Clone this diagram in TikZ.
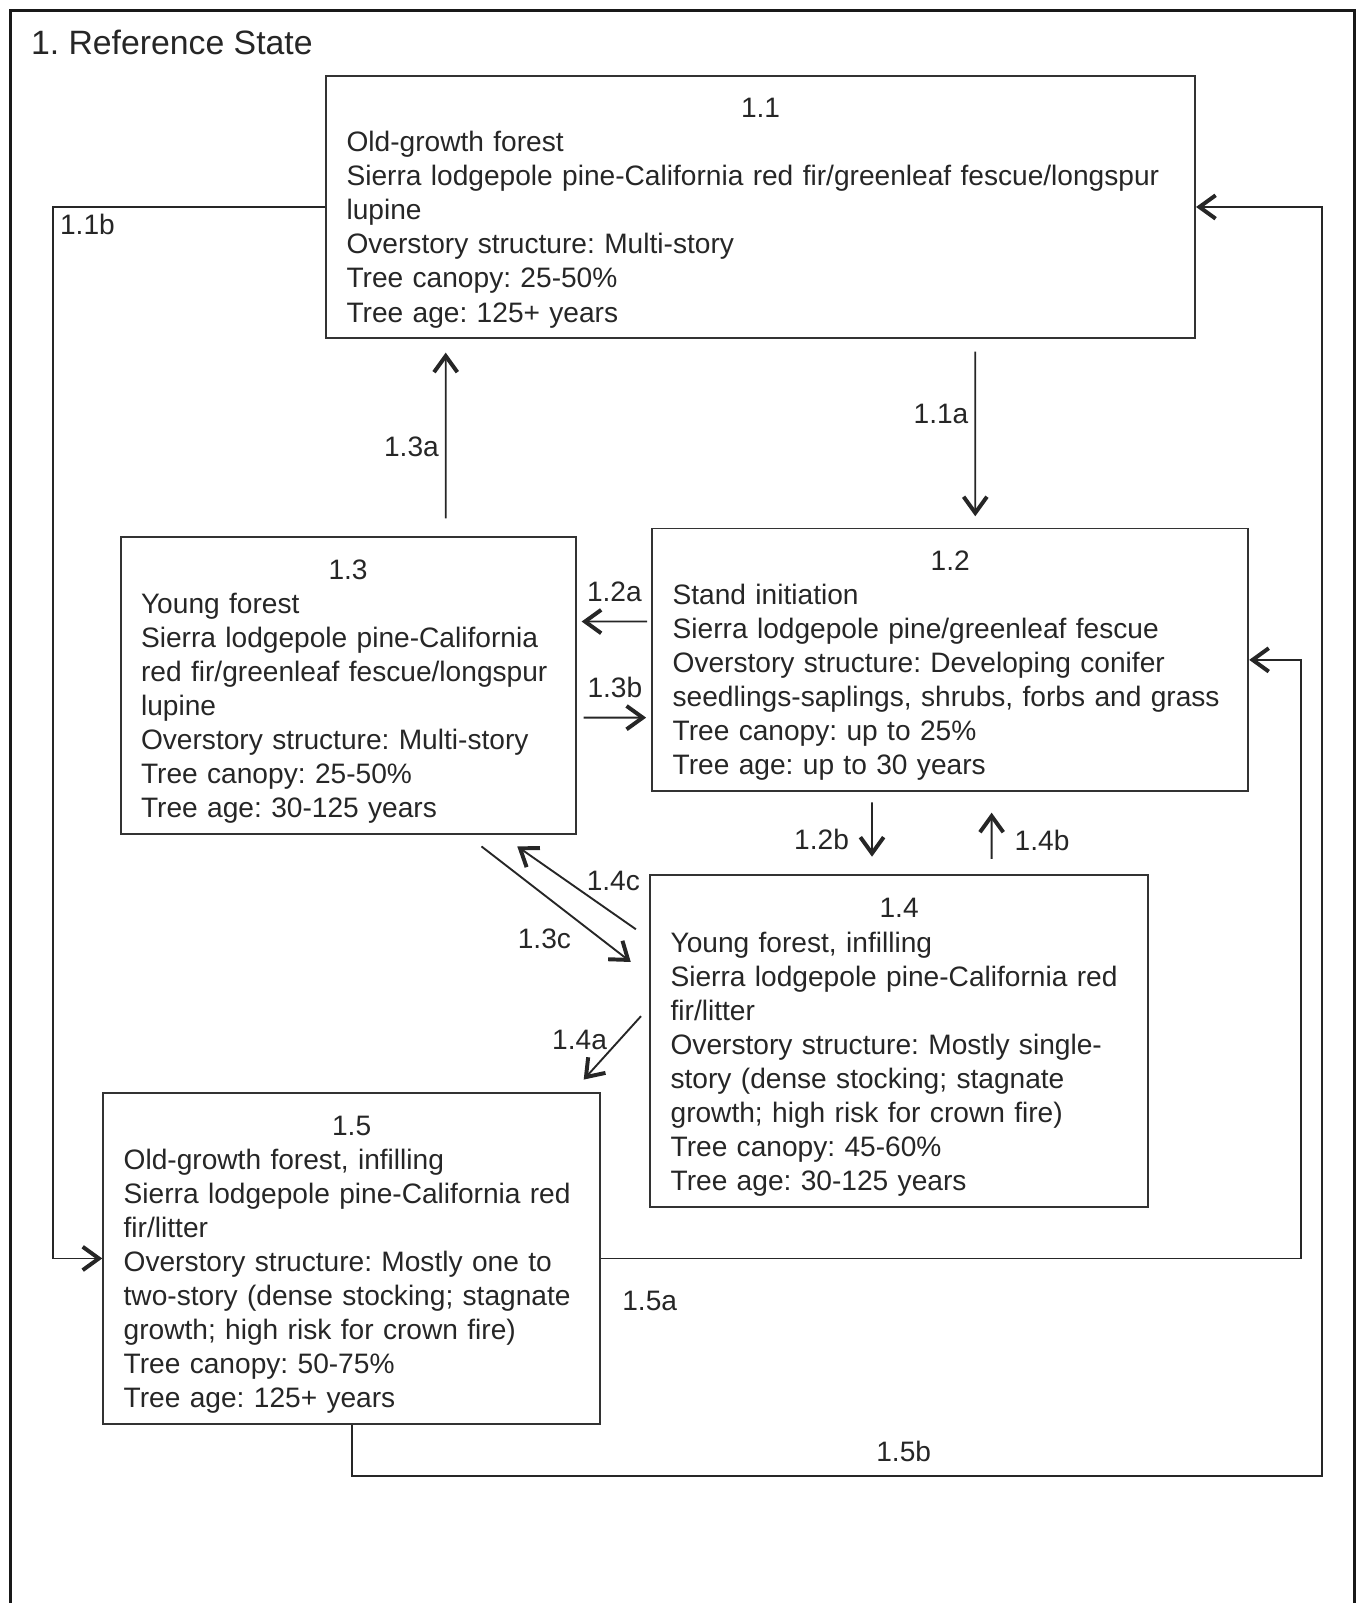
\documentclass[tikz,border=0pt]{standalone}
\usepackage{fontspec}
\setmainfont{Liberation Sans}
\frenchspacing
\usepackage{tikz}
\usetikzlibrary{shapes,positioning,arrows.meta}
\newcommand{\phasefont}{\fontsize{15.65}{18.95}\selectfont\hyphenpenalty=10000\relax\exhyphenpenalty=10000\relax}
\newcommand{\phaseno}[1]{\makebox[\linewidth]{\rule{0pt}{0.62cm}#1}}

\begin{document}
\begin{tikzpicture}[
  statebox/.style={rectangle, draw=black!80, line width=1.1pt, anchor=north west, align=left, inner xsep=0.4cm, inner ysep=0pt, font=\phasefont, text=black!85},
  lbl/.style={font=\phasefont, text=black!85},
  arrow/.style={-{Straight Barb[length=9pt,width=13pt,line width=2.2pt]}, line width=1.05pt, black!85}
]
\useasboundingbox (0,0) rectangle (26.58,-31.36);

% Outer frame
\draw[line width=1.6pt, black!90] (0.2,-31.6) -- (0.2,-0.2) -- (26.5,-0.2) -- (26.5,-31.6);
\node[anchor=west, inner sep=0pt, font=\fontsize{18.8}{22}\selectfont, text=black!85] (title) at (0.6,-0.84) {1. Reference State};

% Community phase boxes
\node[statebox, text width=16.2cm, minimum height=5.14cm] (b11) at (6.36,-1.46) {\phaseno{1.1}\\Old-growth forest\\Sierra lodgepole pine-California red fir/greenleaf fescue/longspur\\lupine\\Overstory structure: Multi-story\\Tree canopy: 25-50\%\\Tree age: 125+ years};
\node[statebox, text width=10.86cm, minimum height=5.14cm] (b12) at (12.74,-10.32) {\phaseno{1.2}\\Stand initiation\\Sierra lodgepole pine/greenleaf fescue\\Overstory structure: Developing conifer\\seedlings-saplings, shrubs, forbs and grass\\Tree canopy: up to 25\%\\Tree age: up to 30 years};
\node[statebox, text width=8.1cm, minimum height=5.82cm] (b13) at (2.34,-10.48) {\phaseno{1.3}\\Young forest\\Sierra lodgepole pine-California\\red fir/greenleaf fescue/longspur\\lupine\\Overstory structure: Multi-story\\Tree canopy: 25-50\%\\Tree age: 30-125 years};
\node[statebox, text width=8.94cm, minimum height=6.5cm] (b14) at (12.70,-17.10) {\phaseno{1.4}\\Young forest, infilling\\Sierra lodgepole pine-California red\\fir/litter\\Overstory structure: Mostly single-\\story (dense stocking; stagnate\\growth; high risk for crown fire)\\Tree canopy: 45-60\%\\Tree age: 30-125 years};
\node[statebox, text width=8.92cm, minimum height=6.48cm] (b15) at (2.00,-21.36) {\phaseno{1.5}\\Old-growth forest, infilling\\Sierra lodgepole pine-California red\\fir/litter\\Overstory structure: Mostly one to\\two-story (dense stocking; stagnate\\growth; high risk for crown fire)\\Tree canopy: 50-75\%\\Tree age: 125+ years};

% Transitions between phases
\draw[arrow] ([xshift=4.2cm,yshift=-0.24cm]b11.south) -- ([xshift=0.49cm,yshift=0.22cm]b12.north) node[lbl, pos=0.38, left] {1.1a};
\draw[arrow] ([xshift=1.91cm,yshift=0.34cm]b13.north) -- ([xshift=-6.16cm,yshift=-0.26cm]b11.south) node[lbl, pos=0.43, left] {1.3a};
\draw[arrow] ([xshift=-0.08cm,yshift=0.75cm]b12.west) -- ([xshift=0.1cm,yshift=1.25cm]b13.east) node[lbl, midway, above=7pt] {1.2a};
\draw[arrow] ([xshift=0.14cm,yshift=-0.63cm]b13.east) -- ([xshift=-0.1cm,yshift=-1.13cm]b12.west) node[lbl, midway, above=7pt] {1.3b};
\draw[arrow] ([xshift=-1.53cm,yshift=-0.2cm]b12.south) -- ([xshift=-0.53cm,yshift=0.34cm]b14.north) node[lbl, pos=0.69, left=9pt] {1.2b};
\draw[arrow] ([xshift=1.81cm,yshift=0.3cm]b14.north) -- ([xshift=0.81cm,yshift=-0.4cm]b12.south) node[lbl, pos=0.4, right=9pt] {1.4b};
\draw[arrow] ([xshift=2.61cm,yshift=-0.22cm]b13.south) -- ([xshift=-0.36cm,yshift=1.55cm]b14.west) node[lbl, pos=0.8, left=0.45cm] {1.3c};
\draw[arrow] ([xshift=-0.26cm,yshift=2.19cm]b14.west) -- ([xshift=3.31cm,yshift=-0.22cm]b13.south) node[lbl, pos=0.19, above=0.3cm] {1.4c};
\draw[arrow] ([xshift=-0.16cm,yshift=0.49cm]b14.west) -- ([xshift=4.54cm,yshift=0.24cm]b15.north) node[lbl, pos=0.38, left=3pt] {1.4a};

% Long return paths
\draw[arrow] (b11.west) -- ++(-5.32,0) node[lbl, pos=1, below right] {1.1b} |- (b15.west);
\draw[arrow] (b15.east) -- ++(13.7,0) node[lbl, pos=0, below right=0.5cm and 0.28cm] {1.5a} |- (b12.east);
\draw[arrow] (b15.south) -- ++(0,-1.0) -- ++(18.98,0) node[lbl, pos=0.569, above=4pt] {1.5b} |- (b11.east);
\end{tikzpicture}
\end{document}
